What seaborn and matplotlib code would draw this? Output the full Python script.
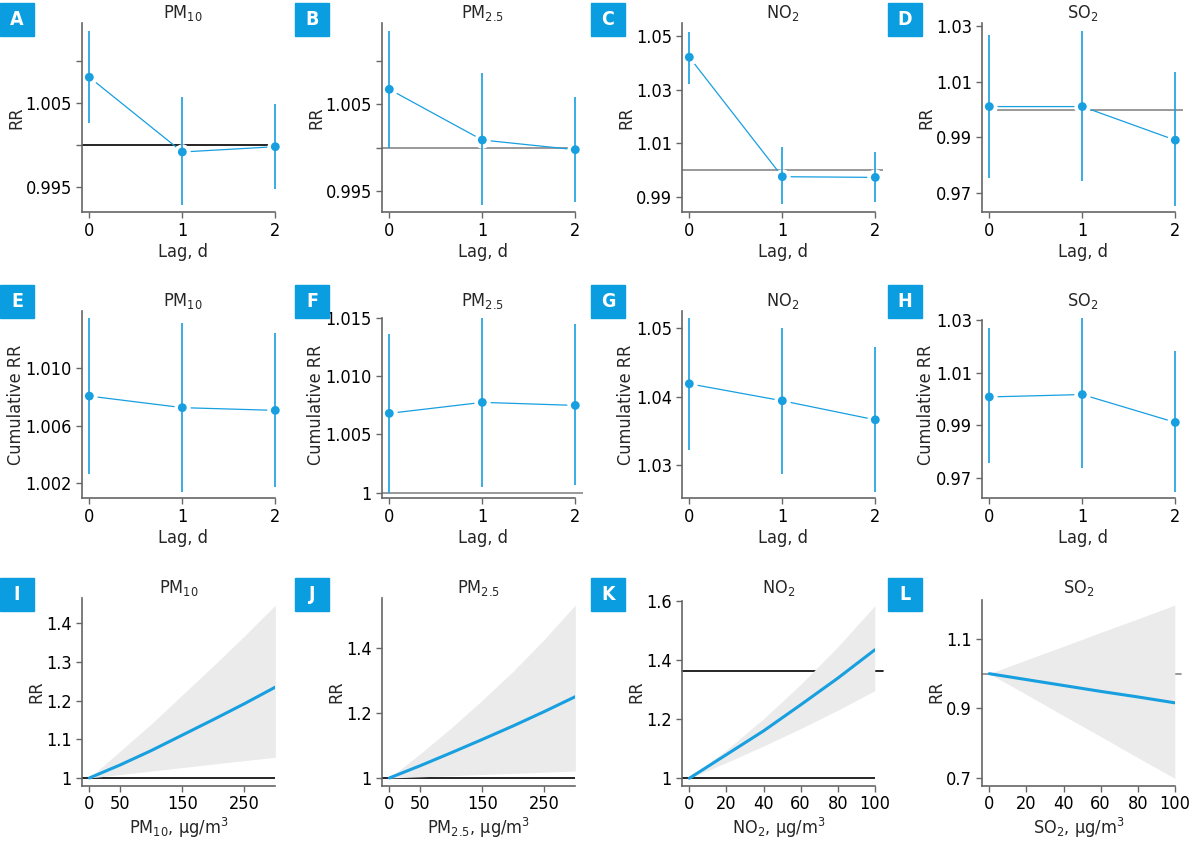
import numpy as np
import matplotlib
matplotlib.use("Agg")
import matplotlib.pyplot as plt
import seaborn as sns
from matplotlib.patches import Rectangle
from matplotlib import font_manager

# ---- data ----
lags = [0, 1, 2]

# single-lag RR (row 1)
rr_pm10 = [1.0081, 0.9992, 0.99983]
lo_pm10 = [1.0026, 0.9929, 0.99476]
hi_pm10 = [1.0136, 1.0057, 1.00495]
rr_pm25 = [1.00669, 1.00086, 0.99975]
lo_pm25 = [0.99998, 0.99334, 0.99373]
hi_pm25 = [1.01339, 1.00853, 1.00584]
rr_no2 = [1.0421, 0.99756, 0.9973]
lo_no2 = [1.0322, 0.98727, 0.9880]
hi_no2 = [1.0516, 1.00863, 1.00665]
rr_so2 = [1.00105, 1.00105, 0.98904]
lo_so2 = [0.9756, 0.9744, 0.9655]
hi_so2 = [1.0267, 1.0282, 1.01343]

# cumulative RR (row 2)
cum_pm10 = [1.00806, 1.00725, 1.00706]
cum_lo_pm10 = [1.00259, 1.00138, 1.00171]
cum_hi_pm10 = [1.01354, 1.01317, 1.01244]
cum_pm25 = [1.0068, 1.00774, 1.00748]
cum_lo_pm25 = [1.0000, 1.00049, 1.00066]
cum_hi_pm25 = [1.01357, 1.0150, 1.01443]
cum_no2 = [1.0419, 1.03942, 1.03664]
cum_lo_no2 = [1.03228, 1.02877, 1.02610]
cum_hi_no2 = [1.05155, 1.0501, 1.04727]
cum_so2 = [1.00072, 1.00163, 0.99103]
cum_lo_so2 = [0.97548, 0.97362, 0.9645]
cum_hi_so2 = [1.02684, 1.03088, 1.01812]

# exposure-response curves (row 3)
conc_pm = [0, 50, 100, 150, 200, 250, 300]
crv_pm10 = [1.0, 1.034, 1.071, 1.111, 1.151, 1.192, 1.235]
crv_lo_pm10 = [1.0, 1.009, 1.018, 1.027, 1.036, 1.045, 1.0535]
crv_hi_pm10 = [1.0, 1.07, 1.14, 1.215, 1.29, 1.367, 1.447]
crv_pm25 = [1.0, 1.038, 1.078, 1.119, 1.161, 1.205, 1.251]
crv_lo_pm25 = [1.0, 1.0036, 1.0072, 1.0108, 1.0144, 1.018, 1.0216]
crv_hi_pm25 = [1.0, 1.075, 1.155, 1.24, 1.33, 1.428, 1.534]
conc_gas = [0, 20, 40, 60, 80, 100]
crv_no2 = [1.0, 1.08, 1.16, 1.248, 1.338, 1.434]
crv_lo_no2 = [1.0, 1.053, 1.109, 1.168, 1.230, 1.296]
crv_hi_no2 = [1.0, 1.096, 1.201, 1.317, 1.444, 1.583]
crv_so2 = [1.0, 0.983, 0.966, 0.949, 0.933, 0.916]
crv_lo_so2 = [1.0, 0.94, 0.879, 0.819, 0.758, 0.698]
crv_hi_so2 = [1.0, 1.04, 1.079, 1.119, 1.158, 1.198]

titles = ["PM$_{10}$", "PM$_{2.5}$", "NO$_2$", "SO$_2$"]
letters = list("ABCDEFGHIJKL")
xlabels_conc = ["PM$_{10}$, μg/m$^3$", "PM$_{2.5}$, μg/m$^3$",
                "NO$_2$, μg/m$^3$", "SO$_2$, μg/m$^3$"]

yt_row1 = [[0.995, 1.0, 1.005, 1.010], [0.995, 1.0, 1.005, 1.010],
           [0.99, 1.01, 1.03, 1.05], [0.97, 0.99, 1.01, 1.03]]
yl_row1 = [["0.995", "", "1.005", ""], ["0.995", "", "1.005", ""],
           ["0.99", "1.01", "1.03", "1.05"], ["0.97", "0.99", "1.01", "1.03"]]
yt_row2 = [[1.002, 1.006, 1.010], [1.0, 1.005, 1.010, 1.015],
           [1.03, 1.04, 1.05], [0.97, 0.99, 1.01, 1.03]]
yl_row2 = [["1.002", "1.006", "1.010"], ["1", "1.005", "1.010", "1.015"],
           ["1.03", "1.04", "1.05"], ["0.97", "0.99", "1.01", "1.03"]]
yt_row3 = [[1.0, 1.1, 1.2, 1.3, 1.4], [1.0, 1.2, 1.4],
           [1.0, 1.2, 1.4, 1.6], [0.7, 0.9, 1.1]]
yl_row3 = [["1", "1.1", "1.2", "1.3", "1.4"], ["1", "1.2", "1.4"],
           ["1", "1.2", "1.4", "1.6"], ["0.7", "0.9", "1.1"]]
xt_row3 = [[0, 50, 150, 250], [0, 50, 150, 250],
           [0, 20, 40, 60, 80, 100], [0, 20, 40, 60, 80, 100]]

ylims_row1 = [(0.99202, 1.01452), (0.99255, 1.01428), (0.98429, 1.05473), (0.96321, 1.03086)]
ylims_row2 = [(1.00091, 1.01401), (0.99952, 1.01557), (1.02518, 1.05253), (0.96215, 1.03342)]
ylims_row3 = [(0.9801, 1.4663), (0.9762, 1.5565), (0.975, 1.6101), (0.6769, 1.2192)]

# ---- style ----
blue = "#179fe0"
band = "#ebebeb"
spine = "#666666"

sns.set_theme(style="ticks")

# pick a narrow font if one is installed
fonts = font_manager.fontManager.ttflist
if any(f.name == "Liberation Sans Narrow" for f in fonts):
    fam, math_rm, stretch = "Liberation Sans Narrow", "Liberation Sans Narrow", "normal"
elif any(f.name == "DejaVu Sans" and f.stretch == "condensed" for f in fonts):
    fam, math_rm, stretch = "DejaVu Sans", "DejaVu Sans:stretch=condensed", "condensed"
else:
    fam, math_rm, stretch = "Roboto", "Roboto", "normal"

plt.rcParams["font.family"] = [fam, "DejaVu Sans"]
plt.rcParams["font.stretch"] = stretch
plt.rcParams["mathtext.fontset"] = "custom"
plt.rcParams["mathtext.rm"] = math_rm
plt.rcParams["mathtext.it"] = math_rm
plt.rcParams["mathtext.bf"] = math_rm
plt.rcParams["mathtext.default"] = "rm"

W, H = 1198, 846
fig = plt.figure(figsize=(W / 100, H / 100), dpi=100)
fig.patch.set_facecolor("white")

col_left = [81.7, 381.7, 681.7, 981.7]
row_tb = [(23.3, 212.3), (311, 498.3), (597.7, 785.7)]
box_x = [0, 295, 591, 888]
box_y = [3, 285, 578]
fs = 13


def add_ax(left, right, top, bottom):
    return fig.add_axes([left / W, 1 - bottom / H, (right - left) / W, (bottom - top) / H])


def style(ax):
    sns.despine(ax=ax)
    for s in ("left", "bottom"):
        ax.spines[s].set_color(spine)
        ax.spines[s].set_linewidth(1.2)
    ax.tick_params(axis="both", direction="out", length=4, width=1, color=spine,
                   labelsize=fs, labelcolor="black", pad=3)
    ax.set_facecolor("none")


def lag_panel(ax, rr, lo, hi, ylim, yt, yl, ylabel, title, ref=None):
    rr = np.array(rr)
    err = [rr - np.array(lo), np.array(hi) - rr]
    if ref is not None:
        ax.axhline(1.0, color=ref, lw=1.2, zorder=1)
    sns.lineplot(x=lags, y=rr, ax=ax, color=blue, lw=0.9, marker="o", markersize=11,
                 markerfacecolor="white", markeredgecolor="white", zorder=2)
    ax.errorbar(lags, rr, yerr=err, fmt="none", ecolor=blue, elinewidth=1.2, capsize=0, zorder=3)
    sns.scatterplot(x=lags, y=rr, ax=ax, color=blue, s=40, edgecolor="none", zorder=4)
    ax.set_xlim(-0.082, 2.086)
    ax.set_ylim(*ylim)
    ax.set_xticks(lags)
    ax.set_yticks(yt)
    ax.set_yticklabels(yl)
    ax.set_xlabel("Lag, d", fontsize=fs, labelpad=2)
    ax.set_ylabel(ylabel, fontsize=fs, labelpad=0.5)
    ax.set_title(title, fontsize=fs, pad=3)
    style(ax)
    ax.spines["bottom"].set_bounds(-0.082, 2)


row1 = [(rr_pm10, lo_pm10, hi_pm10, "black"), (rr_pm25, lo_pm25, hi_pm25, "#888888"),
        (rr_no2, lo_no2, hi_no2, "#888888"), (rr_so2, lo_so2, hi_so2, "#888888")]
row2 = [(cum_pm10, cum_lo_pm10, cum_hi_pm10, None), (cum_pm25, cum_lo_pm25, cum_hi_pm25, "#888888"),
        (cum_no2, cum_lo_no2, cum_hi_no2, None), (cum_so2, cum_lo_so2, cum_hi_so2, None)]

for j, (rr, lo, hi, ref) in enumerate(row1):
    ax = add_ax(col_left[j], col_left[j] + 201.6, *row_tb[0])
    lag_panel(ax, rr, lo, hi, ylims_row1[j], yt_row1[j], yl_row1[j], "RR", titles[j], ref)

for j, (rr, lo, hi, ref) in enumerate(row2):
    ax = add_ax(col_left[j], col_left[j] + 201.6, *row_tb[1])
    lag_panel(ax, rr, lo, hi, ylims_row2[j], yt_row2[j], yl_row2[j], "Cumulative RR", titles[j], ref)
    if j in (1, 3):
        ax.spines["left"].set_bounds(ylims_row2[j][0], yt_row2[j][-1])

# row 3: exposure-response curves
row3 = [(conc_pm, crv_pm10, crv_lo_pm10, crv_hi_pm10, (-12.3, 300), 193.6),
        (conc_pm, crv_pm25, crv_lo_pm25, crv_hi_pm25, (-12.3, 300), 193.6),
        (conc_gas, crv_no2, crv_lo_no2, crv_hi_no2, (-4.1, 100), 193.1),
        (conc_gas, crv_so2, crv_lo_so2, crv_hi_so2, (-4.1, 100), 193.1)]

for j, (xc, y, lo, hi, xlim, width) in enumerate(row3):
    ax = add_ax(col_left[j], col_left[j] + width, *row_tb[2])
    if j == 3:
        ax.axhline(1.0, xmax=1.03, color="#888888", lw=1.2, zorder=1, clip_on=False)
    else:
        ax.axhline(1.0, color="black", lw=1.2, zorder=1)
    if j == 2:
        ax.axhline(1.364, xmax=1.04, color="black", lw=1.2, zorder=1, clip_on=False)
    ax.fill_between(xc, lo, hi, color=band, lw=0, zorder=2)
    sns.lineplot(x=xc, y=y, ax=ax, color=blue, lw=2.2, zorder=3)
    ax.set_xlim(*xlim)
    ax.set_ylim(*ylims_row3[j])
    ax.set_xticks(xt_row3[j])
    ax.set_yticks(yt_row3[j])
    ax.set_yticklabels(yl_row3[j])
    ax.set_xlabel(xlabels_conc[j], fontsize=fs, labelpad=2)
    ax.set_ylabel("RR", fontsize=fs, labelpad=0.5)
    ax.set_title(titles[j], fontsize=fs, pad=3)
    style(ax)
    if j == 2:
        ax.spines["left"].set_bounds(ylims_row3[j][0], 1.6)
    if j == 3:
        ax.spines["left"].set_bounds(ylims_row3[j][0], 1.2125)

# panel letter boxes
for i, letter in enumerate(letters):
    r, c = divmod(i, 4)
    x0, y0 = box_x[c], box_y[r]
    fig.patches.append(Rectangle((x0 / W, 1 - (y0 + 33) / H), 34 / W, 33 / H,
                                 transform=fig.transFigure, color="#0a9de0", zorder=5))
    fig.text((x0 + 17) / W, 1 - (y0 + 16.5) / H, letter, color="white", fontsize=14,
             fontweight="bold", ha="center", va="center", zorder=6)

fig.savefig("out.png", dpi=100)
